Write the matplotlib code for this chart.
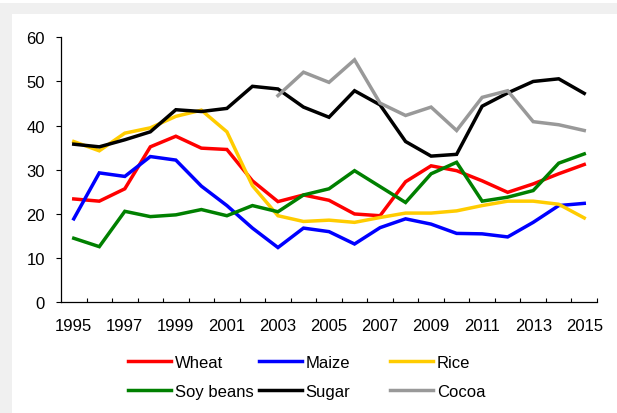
import numpy as np
import matplotlib.pyplot as plt
from matplotlib.patches import Rectangle
from matplotlib.ticker import FixedLocator, NullFormatter

plt.rcParams['font.family'] = ['Liberation Sans', 'DejaVu Sans']

years = np.arange(1995, 2016)

wheat = [23.4, 22.9, 25.7, 35.2, 37.6, 34.9, 34.6, 27.5, 22.8, 24.3, 23.1,
         20.0, 19.6, 27.3, 30.9, 29.8, 27.5, 24.9, 26.8, 29.1, 31.2]
maize = [18.9, 29.3, 28.5, 33.0, 32.2, 26.3, 21.9, 16.8, 12.4, 16.8, 16.0,
         13.2, 16.9, 18.9, 17.7, 15.6, 15.5, 14.8, 18.1, 21.9, 22.4]
rice = [36.4, 34.3, 38.3, 39.5, 42.1, 43.5, 38.6, 26.4, 19.6, 18.3, 18.6,
        18.1, 19.2, 20.2, 20.2, 20.7, 21.9, 22.9, 22.9, 22.2, 19.1]
soy = [14.5, 12.6, 20.6, 19.4, 19.8, 21.0, 19.6, 21.9, 20.5, 24.3, 25.7,
       29.8, 26.2, 22.6, 29.1, 31.7, 22.9, 23.8, 25.3, 31.5, 33.6]
sugar = [35.8, 35.2, 36.8, 38.6, 43.6, 43.2, 43.9, 48.9, 48.3, 44.2, 41.9,
         47.9, 44.7, 36.4, 33.1, 33.5, 44.4, 47.4, 50.0, 50.6, 47.3]
# cocoa series only starts in 2003
cocoa = [np.nan] * 8 + [46.8, 52.1, 49.8, 54.9, 45.1, 42.3, 44.2, 38.9,
                        46.4, 47.9, 40.9, 40.2, 38.9]

names = ['Wheat', 'Maize', 'Rice', 'Soy beans', 'Sugar', 'Cocoa']
series = [wheat, maize, rice, soy, sugar, cocoa]
colors = ['#ff0000', '#0000ff', '#ffcc00', '#008000', '#000000', '#999999']

W, H = 617, 414
fig = plt.figure(figsize=(W / 100, H / 100), dpi=100)
fig.patch.set_facecolor('white')

# light grey frame along the top and left edges
fig.patches.append(Rectangle((0, 0), 1, (H - 4) / H, transform=fig.transFigure,
                             facecolor='#f0f0f0', edgecolor='none', zorder=-2))
fig.patches.append(Rectangle((12 / W, 0), 1, (H - 15) / H, transform=fig.transFigure,
                             facecolor='white', edgecolor='none', zorder=-1))

ax = fig.add_axes([61 / W, (H - 303.3) / H, 536 / W, 265 / H])
ax.set_facecolor('white')

lines = []
for vals, name, c in zip(series, names, colors):
    ln, = ax.plot(years, vals, color=c, lw=2.5, label=name, solid_joinstyle='miter')
    lines.append(ln)

ax.set_xlim(1994.5, 2015.5)
ax.set_ylim(0, 60)
ax.set_yticks(np.arange(0, 61, 10))
ax.set_xticks(years[::2])
ax.xaxis.set_minor_locator(FixedLocator(np.arange(1995.5, 2016, 1)))
ax.xaxis.set_minor_formatter(NullFormatter())
ax.tick_params(axis='x', which='major', length=0, pad=11, labelsize=12)
ax.tick_params(axis='x', which='minor', direction='in', length=3, width=0.8)
ax.tick_params(axis='y', direction='out', length=3.5, width=0.8, pad=8, labelsize=12)

for s in ['top', 'right']:
    ax.spines[s].set_visible(False)
for s in ['left', 'bottom']:
    ax.spines[s].set_linewidth(0.9)

# legend laid out as three evenly spaced columns
col_x = [128, 259, 390]
for i, x in enumerate(col_x):
    fig.legend([lines[i], lines[i + 3]], [names[i], names[i + 3]],
               loc='center left', bbox_to_anchor=(x / W, 1 - 378 / H),
               frameon=False, fontsize=12, borderpad=0, borderaxespad=0,
               handlelength=2.6, handletextpad=0.2, labelspacing=0.85)

fig.savefig('out.png', dpi=100, facecolor=fig.get_facecolor())
